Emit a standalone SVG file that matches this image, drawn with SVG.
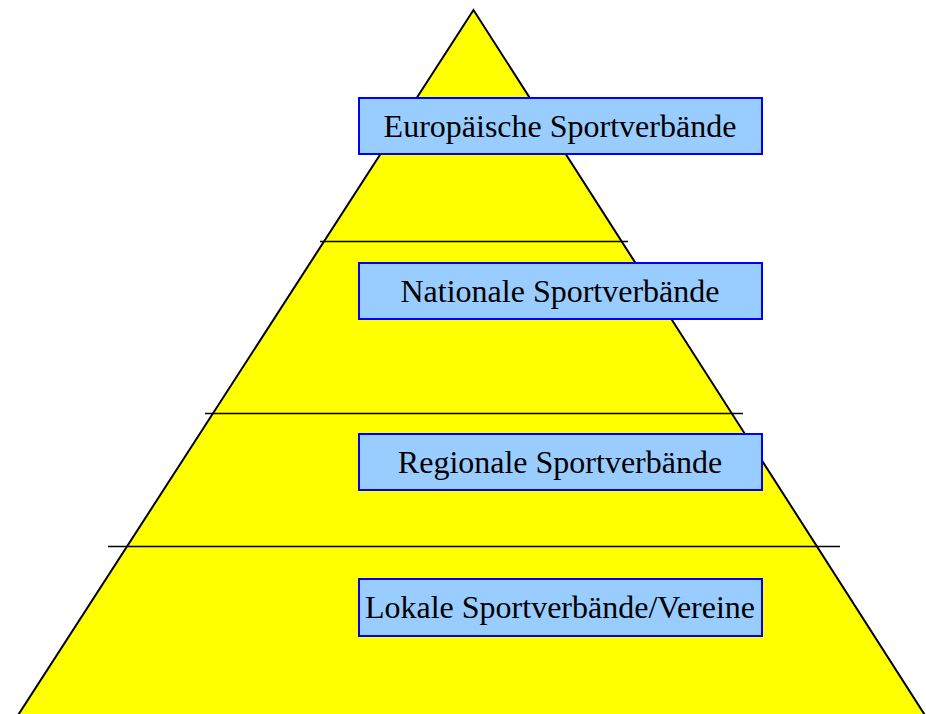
<svg xmlns="http://www.w3.org/2000/svg" width="926" height="714" viewBox="0 0 926 714">
<style>
.box{fill:#99ccff;stroke:#0000ff;stroke-width:2}
.lbl{font-family:"Liberation Serif","Times New Roman",serif;font-size:32px;fill:#000;text-anchor:middle}
.sep{stroke:#000;stroke-width:1.5}
</style>
<rect width="926" height="714" fill="#fff"/>
<g id="pyramid">
<polygon points="473.5,10 17.5,716 925.5,716" fill="#ffff00" stroke="#000" stroke-width="2"/>
</g>
<g id="connectors">
<line class="sep" x1="320" y1="241.5" x2="628" y2="241.5"/>
<line class="sep" x1="205" y1="413.5" x2="743" y2="413.5"/>
<line class="sep" x1="108" y1="546.5" x2="840" y2="546.5"/>
</g>
<g id="n1"><rect class="box" x="359" y="98" width="403" height="56"/><text class="lbl" x="560" y="137">Europäische Sportverbände</text></g>
<g id="n2"><rect class="box" x="359" y="263" width="403" height="56"/><text class="lbl" x="560" y="302">Nationale Sportverbände</text></g>
<g id="n3"><rect class="box" x="359" y="434" width="403" height="56"/><text class="lbl" x="560" y="473">Regionale Sportverbände</text></g>
<g id="n4"><rect class="box" x="359" y="579" width="403" height="57"/><text class="lbl" x="560" y="618">Lokale Sportverbände/Vereine</text></g>
</svg>
